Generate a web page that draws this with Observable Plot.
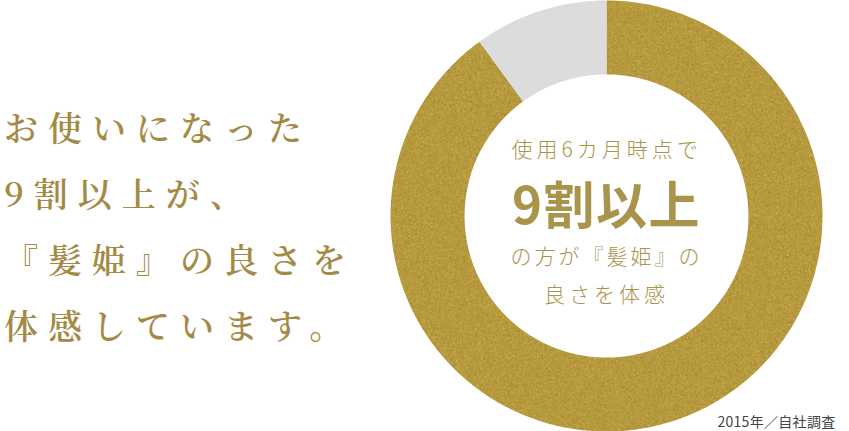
<!DOCTYPE html>
<html lang="ja">
<head>
<meta charset="utf-8">
<script src="https://cdn.jsdelivr.net/npm/d3@7"></script>
<script src="https://cdn.jsdelivr.net/npm/@observablehq/plot@0.6"></script>
<style>
  html, body { margin: 0; padding: 0; background: #fff; }
  #wrap { position: relative; width: 849px; height: 431px; overflow: hidden; }
  #lead {
    position: absolute; left: 4px; top: 94px;
    font-family: "Noto Serif CJK JP", "Noto Sans CJK JP", serif;
    font-weight: 600; font-size: 34px; line-height: 66px;
    letter-spacing: 10px; color: #a38a45; white-space: pre;
  }
  #chart { position: absolute; left: 0; top: 0; }
</style>
</head>
<body>
<div id="wrap">
  <div id="chart"></div>
  <div id="lead"></div>
</div>
<script>
// ---- data ----
const categories = ["良さを体感", "その他"];
const shares = [90, 10];
const leadLines = ["お使いになった", "9割以上が、", "『髪姫』の良さを", "体感しています。"];
const centerLines = ["使用6カ月時点で", "9割以上", "の方が『髪姫』の", "良さを体感"];
const caption = "2015年／自社調査";

document.getElementById("lead").textContent = leadLines.join("\n");

// ---- donut geometry from the values ----
const innerRatio = 0.657;
const pie = d3.pie().sort(null).value(d => d.value);
const arcs = pie(categories.map((c, i) => ({category: c, value: shares[i]})));
const ring = [];
arcs.forEach(a => {
  const n = Math.max(8, Math.round((a.endAngle - a.startAngle) * 60));
  for (let k = 0; k <= n; k++) {
    const t = a.startAngle + (a.endAngle - a.startAngle) * k / n;
    ring.push({category: a.data.category, x: Math.sin(t), y: Math.cos(t)});
  }
  for (let k = n; k >= 0; k--) {
    const t = a.startAngle + (a.endAngle - a.startAngle) * k / n;
    ring.push({category: a.data.category, x: innerRatio * Math.sin(t), y: innerRatio * Math.cos(t)});
  }
});

const textColor = "#a9944c";
const centerDy = [-66, -8, 41, 79];
const centerSize = [21, 51, 21, 21];
const centerWeight = [300, 700, 300, 300];
const centerSpacing = ["4px", "1.5px", "3px", "4px"];

const plot = Plot.plot({
  width: 849,
  height: 431,
  marginLeft: 390,
  marginRight: 27,
  marginTop: 0,
  marginBottom: 0,
  x: {domain: [-1, 1], axis: null},
  y: {domain: [-1, 1], axis: null},
  color: {domain: categories, range: ["url(#gold)", "#dcdcdc"]},
  style: {fontFamily: "'Noto Sans CJK JP', sans-serif", background: "transparent"},
  marks: [
    Plot.line(ring, {x: "x", y: "y", z: "category", fill: "category", stroke: "none", curve: "linear"}),
    ...centerLines.map((s, i) => Plot.text([s], {
      frameAnchor: "middle", text: d => d, dy: centerDy[i],
      fontSize: centerSize[i], fontWeight: centerWeight[i], fill: textColor,
      lineHeight: 1, className: "ctr" + i
    })),
    Plot.text([caption], {frameAnchor: "bottom-right", text: d => d, dx: 13, dy: -5,
      fontSize: 14, fill: "#444", textAnchor: "end", className: "cap"})
  ]
});

// gold grain texture
const defs = `
<defs>
  <filter id="grain" x="0" y="0" width="100%" height="100%" color-interpolation-filters="sRGB">
    <feTurbulence type="fractalNoise" baseFrequency="0.85" numOctaves="2" seed="7" result="noise"/>
    <feColorMatrix in="noise" type="matrix"
      values="0 0 0 0 0.93  0 0 0 0 0.82  0 0 0 0 0.42  2.2 0 0 0 -1.05" result="light"/>
    <feColorMatrix in="noise" type="matrix"
      values="0 0 0 0 0.45  0 0 0 0 0.36  0 0 0 0 0.10  0 -2.2 0 0 1.0" result="dark"/>
    <feMerge>
      <feMergeNode in="SourceGraphic"/>
      <feMergeNode in="light"/>
      <feMergeNode in="dark"/>
    </feMerge>
  </filter>
  <pattern id="gold" patternUnits="userSpaceOnUse" x="0" y="0" width="849" height="431">
    <rect width="849" height="431" fill="#b3963a" filter="url(#grain)"/>
  </pattern>
</defs>`;
plot.insertAdjacentHTML("afterbegin", defs);
centerLines.forEach((_, i) => {
  plot.querySelectorAll(".ctr" + i + " text").forEach(t => t.style.letterSpacing = centerSpacing[i]);
});
plot.querySelectorAll(".cap text").forEach(t => t.style.letterSpacing = "0.3px");
document.getElementById("chart").appendChild(plot);
</script>
</body>
</html>
